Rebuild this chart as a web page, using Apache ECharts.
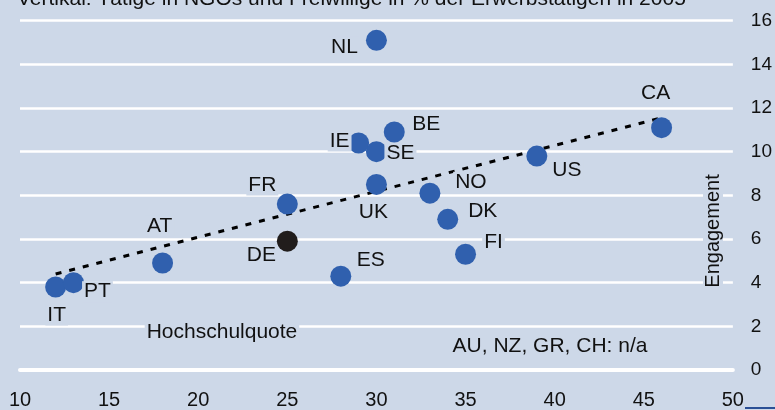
<!DOCTYPE html>
<html lang="de">
<head>
    <meta charset="UTF-8">
    <title>Engagement vs Hochschulquote</title>
    <script src="https://cdn.jsdelivr.net/npm/echarts@6/dist/echarts.min.js"></script>
    <style>
        html, body { margin: 0; padding: 0; background: #cdd8e8; }
        #chart { width: 775px; height: 410px; }
    </style>
</head>
<body>
<div id="chart"></div>
<script type="text/javascript">
    // Daten: Hochschulquote (x) und Engagement (y)
    var countries = ['IT', 'PT', 'AT', 'FR', 'DE', 'ES', 'IE', 'NL', 'SE', 'UK', 'BE', 'NO', 'DK', 'FI', 'US', 'CA'];
    var hochschulquote = [12, 13, 18, 25, 25, 28, 29, 30, 30, 30, 31, 33, 34, 35, 39, 46];
    var engagement = [3.8, 4.0, 4.9, 7.6, 5.9, 4.3, 10.4, 15.1, 10.0, 8.5, 10.9, 8.1, 6.9, 5.3, 9.8, 11.1];
    // Trendlinie (Endpunkte)
    var trendX = [12, 46];
    var trendY = [4.4, 11.55];
    var xTicks = [10, 50, 5];
    var yTicks = [0, 16, 2];

    var bg = '#cdd8e8';
    var txt = '#111111';
    var font = 'Liberation Sans, Arial, sans-serif';

    // Label-Versatz je Land
    var labelOffset = {
        IT: [1, 28], PT: [24, 9], AT: [-3, -37], FR: [-25, -19], DE: [-26, 14],
        ES: [30, -16], IE: [-19, -2], NL: [-32, 7], SE: [24, 2], UK: [-3, 28],
        BE: [32, -8], NO: [41, -11], DK: [35, -8], FI: [28, -12], US: [30, 14], CA: [-6, -34]
    };

    var points = [];
    for (var i = 0; i < countries.length; i++) {
        var c = countries[i];
        points.push({
            name: c,
            value: [hochschulquote[i], engagement[i]],
            itemStyle: {color: c === 'DE' ? '#211d1c' : '#3060ae', opacity: 1},
            label: {offset: labelOffset[c]}
        });
    }

    var chart = echarts.init(document.getElementById('chart'));
    var option = {
        backgroundColor: bg,
        animation: false,
        grid: {left: 20, right: 41, top: 20.7, bottom: 40},
        xAxis: {
            type: 'value',
            min: xTicks[0], max: xTicks[1], interval: xTicks[2],
            axisLine: {show: true, lineStyle: {color: '#ffffff', width: 4, cap: 'round'}},
            axisTick: {show: false},
            splitLine: {show: false},
            axisLabel: {color: txt, fontSize: 20, fontFamily: font, margin: 20}
        },
        yAxis: {
            type: 'value',
            position: 'right',
            min: yTicks[0], max: yTicks[1], interval: yTicks[2],
            axisLine: {show: false},
            axisTick: {show: false},
            splitLine: {show: true, lineStyle: {color: '#ffffff', width: 2.5}},
            axisLabel: {color: txt, fontSize: 19, fontFamily: font, margin: 18, align: 'left'}
        },
        graphic: [
            {
                type: 'text', left: 17, top: -11, z: 10,
                style: {text: 'Vertikal: Tätige in NGOs und Freiwillige in % der Erwerbstätigen in 2005',
                    fill: txt, font: '21px ' + font}
            },
            {
                type: 'text', x: 222, y: 332, z: 10,
                style: {text: 'Hochschulquote', fill: txt, font: '21px ' + font,
                    align: 'center', verticalAlign: 'middle', backgroundColor: bg, padding: [0, 2]}
            },
            {
                type: 'text', x: 550, y: 346, z: 10,
                style: {text: 'AU, NZ, GR, CH: n/a', fill: txt, font: '21px ' + font,
                    align: 'center', verticalAlign: 'middle'}
            },
            {
                type: 'text', x: 713, y: 231, rotation: Math.PI / 2, z: 10,
                style: {text: 'Engagement', fill: txt, font: '20px ' + font,
                    align: 'center', verticalAlign: 'middle', backgroundColor: bg, padding: [0, 2]}
            },
            {
                type: 'line', z: 10,
                shape: {x1: 745, y1: 408, x2: 775, y2: 408},
                style: {stroke: '#2a4f95', lineWidth: 2}
            }
        ],
        series: [
            {
                type: 'line',
                data: [[trendX[0], trendY[0]], [trendX[1], trendY[1]]],
                symbol: 'none',
                lineStyle: {color: '#000000', width: 3, type: [6, 8]},
                z: 3
            },
            {
                type: 'scatter',
                symbolSize: 21,
                data: points,
                z: 4,
                label: {
                    show: true,
                    position: 'inside',
                    formatter: '{b}',
                    color: txt,
                    fontSize: 21,
                    fontFamily: font,
                    backgroundColor: bg,
                    padding: [0, 2]
                }
            }
        ]
    };
    chart.setOption(option);
</script>
</body>
</html>
